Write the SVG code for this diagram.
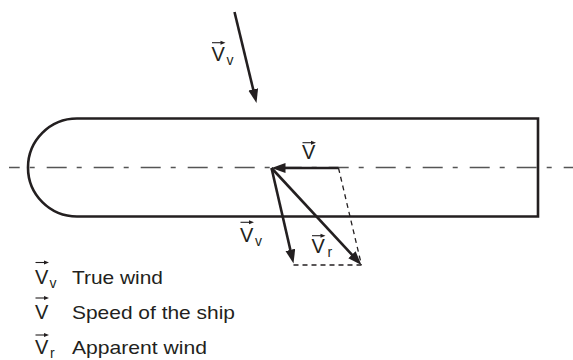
<svg xmlns="http://www.w3.org/2000/svg" width="573" height="360" viewBox="0 0 573 360">
<style>
.hull{fill:none;stroke:#231f20;stroke-width:2.6}
.axis{fill:none;stroke:#555;stroke-width:1.6;stroke-dasharray:20 10 5 12;stroke-dashoffset:9.3}
.vec{fill:none;stroke:#231f20;stroke-width:2.6;marker-end:url(#ah)}
.dash{fill:none;stroke:#231f20;stroke-width:1.3;stroke-dasharray:5 4}
.sym{font-family:"Liberation Sans",Arial,sans-serif;font-size:20px;fill:#231f20}
.sub{font-family:"Liberation Sans",Arial,sans-serif;font-size:14px;fill:#231f20}
.leg{font-family:"Liberation Sans",Arial,sans-serif;font-size:19px;fill:#231f20}
</style>
<defs>
<marker id="ah" markerUnits="userSpaceOnUse" markerWidth="16" markerHeight="12" refX="8" refY="5" orient="auto">
<path d="M0,0 L14,5 L0,10 Z" fill="#231f20"/>
</marker>
<g id="ov">
<path d="M0,0 H10" stroke="#231f20" stroke-width="1.1" fill="none"/>
<path d="M8.5,-2 L13.5,0 L8.5,2 Z" fill="#231f20"/>
</g>
</defs>

<g id="ship">
<path class="hull" d="M538,118.5 H77 A49,49 0 0 0 77,216.5 H538 Z"/>
</g>
<g id="centerline">
<line class="axis" x1="9" y1="167.5" x2="573" y2="167.5"/>
</g>

<g id="connectors">
<line class="vec" x1="234.5" y1="12" x2="255.1" y2="97.2"/>
<line class="vec" x1="338.5" y1="168" x2="277.5" y2="168"/>
<line class="vec" x1="271.5" y1="168" x2="292.15" y2="257.65"/>
<line class="vec" x1="271.5" y1="168" x2="357.4" y2="260.6"/>
<line class="dash" x1="338.5" y1="168" x2="361.5" y2="265"/>
<line class="dash" x1="293.5" y1="265" x2="361.5" y2="265"/>
</g>

<g id="label-vv-top">
<use href="#ov" x="212" y="42.7"/>
<text class="sym" x="211.5" y="60.7">V</text>
<text class="sub" x="226.5" y="65">v</text>
</g>
<g id="label-v">
<use href="#ov" x="302.5" y="142.7"/>
<text class="sym" x="302" y="158.5">V</text>
</g>
<g id="label-vv">
<use href="#ov" x="240.5" y="222.3"/>
<text class="sym" x="240" y="241.7">V</text>
<text class="sub" x="255" y="245.5">v</text>
</g>
<g id="label-vr">
<use href="#ov" x="312" y="235.7"/>
<text class="sym" x="311.5" y="253.3">V</text>
<text class="sub" x="327.5" y="257">r</text>
</g>

<g id="legend">
<use href="#ov" x="35.5" y="262.5"/>
<text class="sym" x="35" y="284">V</text>
<text class="sub" x="49.5" y="287.5">v</text>
<text class="leg" x="72" y="283.5" textLength="91" lengthAdjust="spacingAndGlyphs">True wind</text>

<use href="#ov" x="35.5" y="298"/>
<text class="sym" x="35" y="319">V</text>
<text class="leg" x="72" y="318.5" textLength="163" lengthAdjust="spacingAndGlyphs">Speed of the ship</text>

<use href="#ov" x="35.5" y="335"/>
<text class="sym" x="35" y="354">V</text>
<text class="sub" x="50" y="357.5">r</text>
<text class="leg" x="72" y="354" textLength="135" lengthAdjust="spacingAndGlyphs">Apparent wind</text>
</g>
</svg>
